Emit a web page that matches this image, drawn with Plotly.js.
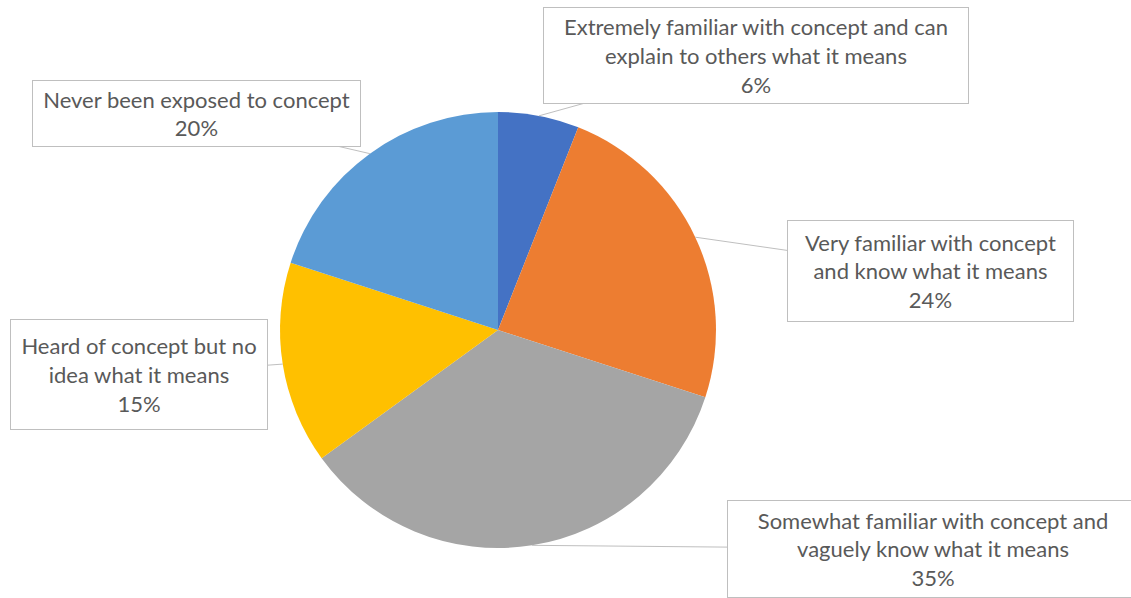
<!DOCTYPE html>
<html><head><meta charset="utf-8">
<script src="https://cdn.plot.ly/plotly-3.0.1.min.js"></script>
<style>html,body{margin:0;padding:0;background:#fff}#c{width:1131px;height:598px}</style>
</head><body><div id="c"></div>
<script>
const categories = [
  "Extremely familiar with concept and can explain to others what it means",
  "Very familiar with concept and know what it means",
  "Somewhat familiar with concept and vaguely know what it means",
  "Heard of concept but no idea what it means",
  "Never been exposed to concept"
];
const labelLines = [
  ["Extremely familiar with concept and can", "explain to others what it means"],
  ["Very familiar with concept", "and know what it means"],
  ["Somewhat familiar with concept and", "vaguely know what it means"],
  ["Heard of concept but no", "idea what it means"],
  ["Never been exposed to concept"]
];
const values = [6, 24, 35, 15, 20];
const colors = ["#4472C4", "#ED7D31", "#A5A5A5", "#FFC000", "#5B9BD5"];

// layout (pixels)
const W = 1131, H = 598;
const cx = 498, cy = 330, R = 218;
const boxes = [
  {x: 756, y: 55.5, w: 426, h: 97},
  {x: 930.5, y: 271, w: 287, h: 102},
  {x: 933, y: 549, w: 412, h: 98},
  {x: 139, y: 374.5, w: 258, h: 111},
  {x: 196.5, y: 113.5, w: 329, h: 67}
];

const total = values.reduce((a, b) => a + b, 0);
let cum = 0;
const annotations = values.map((v, i) => {
  const mid = (cum + v / 2) / total * 2 * Math.PI;
  cum += v;
  const tx = cx + R * Math.sin(mid);
  const ty = cy - R * Math.cos(mid);
  const b = boxes[i];
  const pct = Math.round(v / total * 100) + "%";
  return {
    xref: "paper", yref: "paper",
    x: tx / W, y: 1 - ty / H,
    ax: b.x - tx, ay: b.y - ty,
    text: labelLines[i].concat([pct]).join("<br>"),
    showarrow: true, arrowhead: 0, arrowwidth: 1, arrowcolor: "#BFBFBF",
    standoff: 0, startstandoff: 0,
    bgcolor: "#FFFFFF", bordercolor: "#BFBFBF", borderwidth: 1, borderpad: 0,
    width: b.w - 2, height: b.h - 2, align: "center", valign: "middle",
    font: {family: "Lato, 'Noto Sans', sans-serif", size: 22, color: "#595959"}
  };
});

const data = [{
  type: "pie",
  labels: categories,
  values: values,
  sort: false,
  direction: "clockwise",
  rotation: 0,
  marker: {colors: colors, line: {width: 0}},
  textinfo: "none",
  hoverinfo: "none",
  showlegend: false,
  domain: {x: [(cx - R) / W, (cx + R) / W], y: [(H - cy - R) / H, (H - cy + R) / H]}
}];

const layout = {
  width: W, height: H,
  margin: {l: 0, r: 0, t: 0, b: 0},
  paper_bgcolor: "#FFFFFF",
  showlegend: false,
  annotations: annotations
};

Plotly.newPlot("c", data, layout, {displayModeBar: false, staticPlot: true});
</script>
</body></html>
